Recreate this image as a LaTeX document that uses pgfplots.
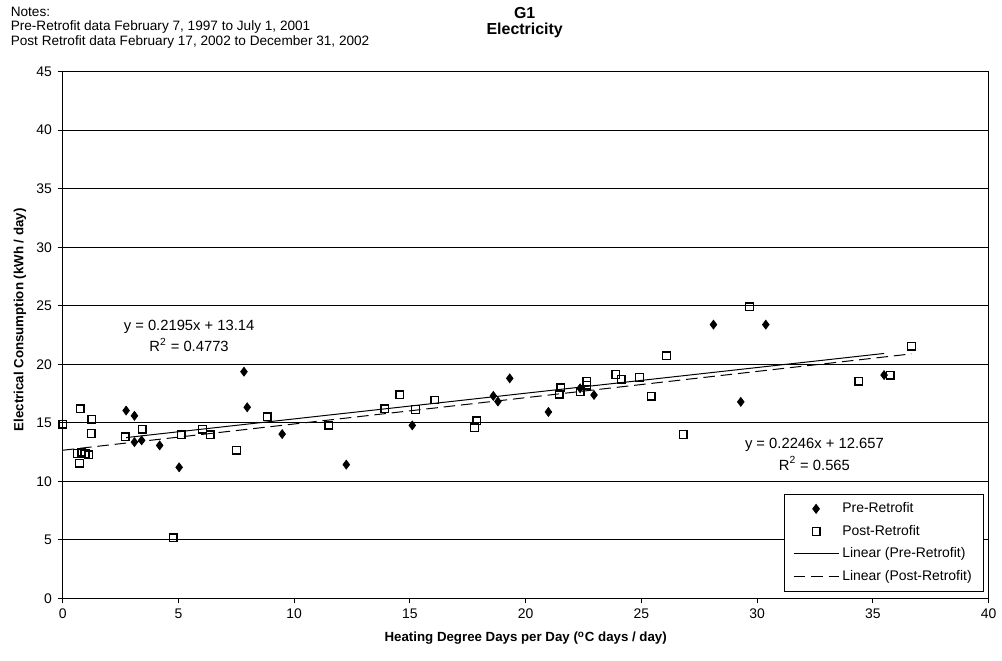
\documentclass[border=0pt]{standalone}
\usepackage{fontspec}
\setmainfont{Liberation Sans}
\usepackage{pgfplots}
\pgfplotsset{compat=1.18}

% pre-retrofit daily points
\pgfplotstableread{
x y
2.74 16.05
3.10 15.60
3.10 13.35
3.41 13.50
4.19 13.07
5.03 11.20
7.83 19.37
7.97 16.33
9.48 14.04
12.25 11.43
15.10 14.78
18.60 17.30
18.80 16.82
19.31 18.80
20.98 15.93
22.35 17.95
22.95 17.38
28.11 23.39
29.29 16.79
30.37 23.39
35.48 19.08
}\pre

% post-retrofit daily points
\pgfplotstableread{
x y
0.01 14.89
0.76 16.19
1.26 15.31
1.23 14.09
0.63 12.39
0.83 12.48
0.97 12.36
1.12 12.27
0.73 11.54
2.70 13.80
3.43 14.46
4.77 5.19
5.12 13.98
6.04 14.46
6.37 13.98
7.51 12.67
8.83 15.51
11.50 14.80
13.92 16.19
14.56 17.38
15.24 16.13
16.07 16.95
17.79 14.57
17.89 15.17
21.45 17.44
21.52 18.00
22.35 17.67
22.64 18.23
22.64 18.52
23.89 19.14
24.13 18.74
24.92 18.86
25.42 17.27
26.08 20.73
26.80 14.00
29.66 24.90
34.39 18.57
35.74 19.08
36.66 21.55
}\post

\begin{document}
\begin{tikzpicture}
\begin{axis}[
    scale only axis,
    width=558pt, height=317.4pt,
    xmin=0, xmax=40, ymin=0, ymax=45,
    xtick={0,5,...,40}, ytick={0,5,...,45},
    xtick pos=lower, ytick pos=left,
    tick align=outside, major tick length=3pt,
    ymajorgrids,
    major grid style={black, line width=0.7pt},
    axis line style={black, line width=0.6pt},
    tick style={black, line width=0.6pt},
    /pgf/number format/assume math mode=true,
    tick label style={font=\fontsize{8.4}{10}\selectfont},
    xlabel={Heating Degree Days per Day (\textsuperscript{o}C days / day)},
    ylabel={Electrical Consumption (kWh / day)},
    label style={font=\bfseries\fontsize{8}{10}\selectfont},
    xlabel style={at={(axis description cs:0.5,-0.0756)}, anchor=center},
    ylabel style={at={(axis description cs:-0.0462,0.529)}, anchor=center},
    clip=false,
    legend style={at={(axis description cs:0.9946,0.0132)}, anchor=south east,
        draw=black, line width=0.5pt, font=\fontsize{8.4}{10}\selectfont,
        row sep=2pt, inner xsep=5pt, inner ysep=3pt},
    legend cell align=left,
    legend image code/.code={\draw[mark repeat=2,mark phase=2,#1]
        plot coordinates {(0pt,0pt) (13.5pt,0pt) (27pt,0pt)};},
]
\addplot[only marks, mark=diamond*, mark size=2.7pt, black] table {\pre};
\addlegendentry{Pre-Retrofit}
\addplot[only marks, mark=square, mark size=2.3pt, black, thick] table {\post};
\addlegendentry{Post-Retrofit}
% fitted trend lines, end points from the fits shown on the chart
\addplot[black, line width=0.6pt] coordinates {(2.74,13.741) (35.48,20.928)};
\addlegendentry{Linear (Pre-Retrofit)}
\addplot[black, line width=0.6pt, dash pattern=on 7pt off 3.5pt] coordinates {(0,12.657) (36.66,20.891)};
\addlegendentry{Linear (Post-Retrofit)}

\node[align=center, font=\fontsize{8.9}{12.8}\selectfont] at (axis cs:5.46,22.4)
    {y = 0.2195x + 13.14\\R\textsuperscript{2} = 0.4773};
\node[align=center, font=\fontsize{8.9}{12.8}\selectfont] at (axis cs:32.47,12.3)
    {y = 0.2246x + 12.657\\R\textsuperscript{2} = 0.565};

\node[anchor=west, font=\fontsize{8.2}{9}\selectfont] at (axis description cs:-0.0624,1.1134) {Notes:};
\node[anchor=west, font=\fontsize{8.2}{9}\selectfont] at (axis description cs:-0.0624,1.0851) {Pre-Retrofit data February 7, 1997 to July 1, 2001};
\node[anchor=west, font=\fontsize{8.2}{9}\selectfont] at (axis description cs:-0.0624,1.0567) {Post Retrofit data February 17, 2002 to December 31, 2002};
\node[font=\bfseries\fontsize{9.6}{10}\selectfont] at (axis description cs:0.4989,1.1115) {G1};
\node[font=\bfseries\fontsize{9.6}{10}\selectfont] at (axis description cs:0.4989,1.0775) {Electricity};

% keep the page to the reference's margins
\path (axis description cs:-0.0677,-0.1172) (axis description cs:1.0097,1.1361);
\end{axis}
\end{tikzpicture}
\end{document}
